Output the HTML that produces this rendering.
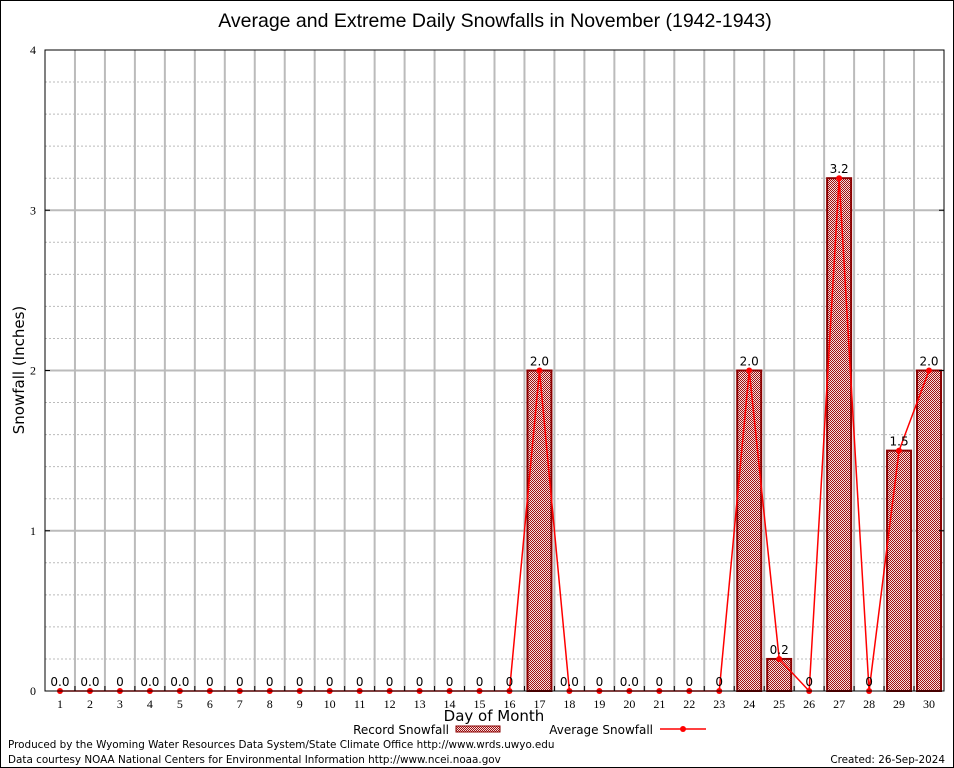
<!DOCTYPE html>
<html><head><meta charset="utf-8"><style>
body{margin:0;background:#fff;}
svg{display:block;font-family:"DejaVu Sans","Liberation Sans",sans-serif;}
</style></head><body>
<svg id="chart" width="954" height="768" viewBox="0 0 954 768">
<defs>
<pattern id="hatch" width="2" height="2" patternUnits="userSpaceOnUse">
<rect width="2" height="2" fill="#f4e0e0"/>
<rect width="1" height="1" fill="#a01010"/><rect x="1" y="1" width="1" height="1" fill="#a01010"/>
</pattern>
</defs>
<rect x="0.5" y="0.5" width="953" height="767" fill="#fff" stroke="#000"/>
<text x="495" y="27" font-size="19.5" text-anchor="middle" font-family="Liberation Sans, sans-serif">Average and Extreme Daily Snowfalls in November (1942-1943)</text>
<g id="grid"></g>
<g id="bars"></g>
<g id="line"></g>
<g id="labels"></g>
<g id="axes"></g>
<text x="24" y="370" font-size="15" text-anchor="middle" transform="rotate(-90 24 370)">Snowfall (Inches)</text>
<text x="494" y="721" font-size="15" text-anchor="middle">Day of Month</text>
<g>
<text x="449" y="734" font-size="12" text-anchor="end">Record Snowfall</text>
<rect x="456" y="726" width="44" height="6" fill="url(#hatch)" stroke="#8b0000"/>
<text x="653" y="734" font-size="12" text-anchor="end">Average Snowfall</text>
<line x1="660" y1="729" x2="706" y2="729" stroke="#f00" stroke-width="1.5"/>
<circle cx="683" cy="729" r="3" fill="#f00"/>
</g>
<text x="8" y="748" font-size="10.4">Produced by the Wyoming Water Resources Data System/State Climate Office http://www.wrds.uwyo.edu</text>
<text x="8" y="763" font-size="10.4">Data courtesy NOAA National Centers for Environmental Information http://www.ncei.noaa.gov</text>
<text x="945" y="763" font-size="10.4" text-anchor="end">Created: 26-Sep-2024</text>
</svg>
<script>
const days = [1,2,3,4,5,6,7,8,9,10,11,12,13,14,15,16,17,18,19,20,21,22,23,24,25,26,27,28,29,30];
const recordValues = [0,0,0,0,0,0,0,0,0,0,0,0,0,0,0,0,2.0,0,0,0,0,0,0,2.0,0.2,0,3.2,0,1.5,2.0];
const averageValues = [0,0,0,0,0,0,0,0,0,0,0,0,0,0,0,0,2.0,0,0,0,0,0,0,2.0,0.2,0,3.2,0,1.5,2.0];
const valueLabels = ["0.0","0.0","0","0.0","0.0","0","0","0","0","0","0","0","0","0","0","0","2.0","0.0","0","0.0","0","0","0","2.0","0.2","0","3.2","0","1.5","2.0"];
const yTicks = [0,1,2,3,4];

const NS="http://www.w3.org/2000/svg";
const L=45,R=944,T=50,B=691,yMax=4;
const step=(R-L)/days.length;
function xs(d){return L+(d-0.5)*step;}
function ys(v){return B-(v/yMax)*(B-T);}
function mk(tag,attrs,parent,text){const e=document.createElementNS(NS,tag);for(const k in attrs)e.setAttribute(k,attrs[k]);if(text!==undefined)e.textContent=text;document.getElementById(parent).appendChild(e);return e;}

for(let v=0.2;v<yMax;v+=0.2){
  if(Math.abs(v-Math.round(v))<1e-6)continue;
  const e=mk('line',{x1:L,x2:R,y1:ys(v),y2:ys(v),stroke:'#bbb','stroke-dasharray':'2,2'},'grid');
  
  
}
yTicks.forEach(t=>{
  if(t>0&&t<yMax){const e=mk('line',{x1:L,x2:R,y1:ys(t),y2:ys(t),stroke:'#bbb','stroke-width':2},'grid');
  
  }
  const tl=mk('text',{x:L-9,y:ys(t)+4,'font-size':12,'text-anchor':'end','font-family':'Liberation Serif, serif'},'axes',String(t));
  
  
  const tk=mk('line',{x1:L,x2:L+5,y1:ys(t),y2:ys(t),stroke:'#000'},'axes');
  
  
  const tk2=mk('line',{x1:R-5,x2:R,y1:ys(t),y2:ys(t),stroke:'#000'},'axes');
  
  
});
for(let i=1;i<days.length;i++){
  const x=L+i*step;
  const e=mk('line',{x1:x,x2:x,y1:T,y2:B,stroke:'#bbb','stroke-width':2},'grid');
  
  
}
days.forEach((d,i)=>{
  const v=recordValues[i];
  if(v>0){const b=mk('rect',{x:xs(d)-12,y:ys(v),width:24,height:B-ys(v),fill:'url(#hatch)',stroke:'#8b0000','stroke-width':2},'bars');
  
  }
  const lb=mk('text',{x:xs(d),y:ys(v)-5,'font-size':12,'text-anchor':'middle'},'labels',valueLabels[i]);
  
  
  const xl=mk('text',{x:xs(d),y:B+17,'font-size':12,'text-anchor':'middle','font-family':'Liberation Serif, serif'},'axes',String(d));
  
  
  const xt=mk('line',{x1:L+(i+1)*step,x2:L+(i+1)*step,y1:B,y2:B-5,stroke:'#000'},'axes');
  
  
});
const pts=days.map((d,i)=>xs(d)+','+ys(averageValues[i])).join(' ');
const pl=mk('polyline',{points:pts,fill:'none',stroke:'#f00','stroke-width':1.5},'line');


days.forEach((d,i)=>{
  const c=mk('circle',{cx:xs(d),cy:ys(averageValues[i]),r:3,fill:'#f00'},'line');
  
  
});
const ax=mk('rect',{x:L,y:T,width:R-L,height:B-T,fill:'none',stroke:'#000'},'axes');


</script>
</body></html>
